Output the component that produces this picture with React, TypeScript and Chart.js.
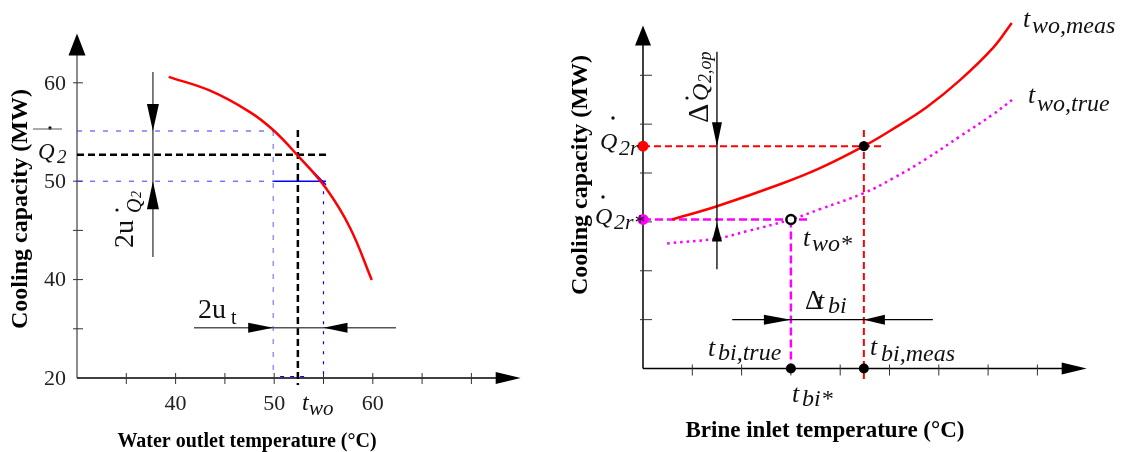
import React, { useEffect, useRef } from "react";
import { Chart, registerables } from "chart.js";
Chart.register(...registerables);

const SERIF = "'Liberation Serif', 'Times New Roman', Times, serif";

// ---------- Left panel (x: water outlet temperature °C, y: capacity axis steps) ----------
const leftXTickValues = [35, 40, 45, 50, 55, 60, 65, 70];
const leftXTickLabels = ["", "40", "", "50", "", "60", "", ""];
const leftYTickValues = [0, 1, 2, 3, 4, 6];
const leftYTickLabels = ["20", "", "40", "", "50", "60"];
const capacityCurveT = [39.3, 43.5, 47.5, 49.9, 52.3, 55.2, 57.7, 59.9];
const capacityCurveQ = [6.12, 5.84, 5.41, 5.04, 4.54, 3.87, 3.05, 1.99];
const nominalT = 52.4;
const nominalQ = 4.54;
const boundT = [49.9, 55.0];
const boundQ = [4.0, 5.02];
const slopeT = [52.8, 55.25];
const slopeQ = [4.43, 3.93];
const uQArrowT = 37.7;
const uQArrowQ = [6.22, 2.46];
const utArrowQ = 1.02;
const utArrowT = [41.87, 62.35];

// ---------- Right panel (x: brine inlet temperature steps, y: capacity steps) ----------
const rightXTickValues = [1, 2, 3, 4, 5, 6, 7, 8];
const rightYTickValues = [1, 2, 3, 4, 5, 6];
const measCurveT = [0.59, 1.5, 2.78, 3.59, 4.48, 5.07, 5.76, 6.43, 7.1, 7.48];
const measCurveQ = [3.05, 3.32, 3.77, 4.1, 4.55, 4.9, 5.35, 5.9, 6.56, 7.07];
const trueCurveT = [0.49, 1.5, 2.11, 3.0, 3.59, 4.48, 5.07, 5.76, 6.43, 7.1, 7.53];
const trueCurveQ = [2.56, 2.66, 2.81, 3.05, 3.26, 3.59, 3.89, 4.3, 4.75, 5.2, 5.53];
const q2r = 4.55;
const q2rStar = 3.05;
const tbiMeas = 4.48;
const tbiTrue = 3.0;
const dQArrowT = 1.5;
const dQArrowQ = [6.48, 2.03];
const dtArrowQ = 1.0;
const dtArrowT = [1.81, 5.88];

const pts = (xs: number[], ys: number[]) => xs.map((x, i) => ({ x, y: ys[i] }));

function seg(ctx: CanvasRenderingContext2D, x1: number, y1: number, x2: number, y2: number) {
  ctx.beginPath();
  ctx.moveTo(x1, y1);
  ctx.lineTo(x2, y2);
  ctx.stroke();
}

function head(ctx: CanvasRenderingContext2D, tx: number, ty: number, dx: number, dy: number, len: number, hw: number) {
  const bx = tx - dx * len, by = ty - dy * len;
  const nx = -dy, ny = dx;
  ctx.beginPath();
  ctx.moveTo(tx, ty);
  ctx.lineTo(bx + nx * hw, by + ny * hw);
  ctx.lineTo(bx - nx * hw, by - ny * hw);
  ctx.closePath();
  ctx.fill();
}

function text(ctx: CanvasRenderingContext2D, s: string, x: number, y: number, font: string, align: CanvasTextAlign = "left", base: CanvasTextBaseline = "alphabetic") {
  ctx.font = font;
  ctx.textAlign = align;
  ctx.textBaseline = base;
  ctx.fillText(s, x, y);
}

function dot(ctx: CanvasRenderingContext2D, x: number, y: number, r: number) {
  ctx.beginPath();
  ctx.arc(x, y, r, 0, Math.PI * 2);
  ctx.fill();
}

function tLabel(ctx: CanvasRenderingContext2D, x: number, y: number, sub: string, sx: number, sy: number) {
  text(ctx, "t", x, y, `italic 26px ${SERIF}`);
  text(ctx, sub, sx, sy, `italic 24px ${SERIF}`);
}

const leftDecor = {
  id: "leftDecor",
  beforeDatasetsDraw(chart: any) {
    const ctx = chart.ctx as CanvasRenderingContext2D;
    const X = (v: number) => chart.scales.x.getPixelForValue(v);
    const Y = (v: number) => chart.scales.y.getPixelForValue(v);
    const ox = X(30), oy = Y(0);
    ctx.save();
    ctx.fillStyle = "#000";
    ctx.strokeStyle = "#666";
    ctx.lineWidth = 1.5;
    seg(ctx, ox, oy, ox, Y(7) + 20);
    head(ctx, ox, Y(7), 0, -1, 22, 8.5);
    leftYTickValues.forEach((v, i) => {
      if (v > 0) { ctx.strokeStyle = "#333"; ctx.lineWidth = 1; seg(ctx, ox - 4, Y(v), ox + 6, Y(v)); }
      ctx.fillStyle = "#222";
      text(ctx, leftYTickLabels[i], ox - 11, Y(v) + 1, `22px ${SERIF}`, "right", "middle");
    });
    ctx.strokeStyle = "#000";
    ctx.fillStyle = "#000";
    ctx.lineWidth = 1.5;
    seg(ctx, ox, oy, X(75) - 22, oy);
    head(ctx, X(75), oy, 1, 0, 25, 6);
    ctx.lineWidth = 1;
    leftXTickValues.forEach((v, i) => {
      ctx.strokeStyle = "#333";
      seg(ctx, X(v), oy - 5, X(v), oy + 6);
      ctx.fillStyle = "#222";
      text(ctx, leftXTickLabels[i], X(v), oy + 26, `22px ${SERIF}`, "center", "middle");
    });
    ctx.restore();
  },
  afterDatasetsDraw(chart: any) {
    const ctx = chart.ctx as CanvasRenderingContext2D;
    const X = (v: number) => chart.scales.x.getPixelForValue(v);
    const Y = (v: number) => chart.scales.y.getPixelForValue(v);
    ctx.save();
    ctx.fillStyle = "#000";
    const ax = X(uQArrowT);
    ctx.strokeStyle = "#555";
    ctx.lineWidth = 1.5;
    seg(ctx, ax, Y(uQArrowQ[0]), ax, Y(uQArrowQ[1]));
    head(ctx, ax, Y(boundQ[1]), 0, 1, 27, 6);
    head(ctx, ax, Y(boundQ[0]), 0, -1, 28, 6);
    const ay = Y(utArrowQ);
    seg(ctx, X(utArrowT[0]), ay, X(utArrowT[1]), ay);
    head(ctx, X(boundT[0]), ay, 1, 0, 25, 5);
    head(ctx, X(boundT[1]), ay, -1, 0, 24, 5);
    ctx.fillStyle = "#111";
    text(ctx, "2u", 198, 318, `28px ${SERIF}`);
    text(ctx, "t", 231, 324, `20px ${SERIF}`);
    ctx.save();
    ctx.translate(133, 248);
    ctx.rotate(-Math.PI / 2);
    text(ctx, "2u", 0, 0, `28px ${SERIF}`);
    text(ctx, "Q", 35, 8, `italic 20px ${SERIF}`);
    text(ctx, "2", 50, 8, `italic 14px ${SERIF}`);
    dot(ctx, 38, -16, 1.6);
    ctx.restore();
    text(ctx, "Q", 38, 159, `italic 23px ${SERIF}`);
    text(ctx, "2", 57, 163, `italic 19px ${SERIF}`);
    dot(ctx, 50, 128, 1.7);
    ctx.strokeStyle = "#555";
    ctx.lineWidth = 1;
    seg(ctx, 33, 129, 62, 129);
    text(ctx, "t", 302, 410, `italic 24px ${SERIF}`);
    text(ctx, "wo", 309, 415, `italic 21px ${SERIF}`);
    ctx.fillStyle = "#000";
    text(ctx, "Water outlet temperature (°C)", 247, 447, `bold 20px ${SERIF}`, "center");
    ctx.save();
    ctx.translate(21, 209);
    ctx.rotate(-Math.PI / 2);
    text(ctx, "Cooling capacity (MW)", 0, 0, `bold 24px ${SERIF}`, "center", "middle");
    ctx.restore();
    ctx.restore();
  },
};

const rightDecor = {
  id: "rightDecor",
  beforeDatasetsDraw(chart: any) {
    const ctx = chart.ctx as CanvasRenderingContext2D;
    const X = (v: number) => chart.scales.x.getPixelForValue(v);
    const Y = (v: number) => chart.scales.y.getPixelForValue(v);
    const ox = X(0), oy = Y(0);
    ctx.save();
    ctx.strokeStyle = "#000";
    ctx.fillStyle = "#000";
    ctx.lineWidth = 1.5;
    seg(ctx, ox, oy, ox, Y(7) + 18);
    head(ctx, ox, Y(7) - 1, 0, -1, 20, 8);
    seg(ctx, ox, oy, X(9) - 22, oy);
    head(ctx, X(9), oy, 1, 0, 25, 6);
    ctx.lineWidth = 1;
    ctx.strokeStyle = "#333";
    rightYTickValues.forEach((v) => seg(ctx, ox - 3, Y(v), ox + 9, Y(v)));
    rightXTickValues.forEach((v) => seg(ctx, X(v), oy - 4, X(v), oy + 7));
    ctx.restore();
  },
  afterDatasetsDraw(chart: any) {
    const ctx = chart.ctx as CanvasRenderingContext2D;
    const X = (v: number) => chart.scales.x.getPixelForValue(v);
    const Y = (v: number) => chart.scales.y.getPixelForValue(v);
    ctx.save();
    ctx.fillStyle = "#000";
    ctx.strokeStyle = "#000";
    ctx.lineWidth = 1.3;
    const ax = X(dQArrowT);
    seg(ctx, ax, Y(dQArrowQ[0]), ax, Y(dQArrowQ[1]));
    head(ctx, ax, Y(q2r), 0, 1, 24, 5);
    head(ctx, ax, Y(q2rStar) + 3, 0, -1, 19, 5);
    const ay = Y(dtArrowQ);
    seg(ctx, X(dtArrowT[0]), ay, X(dtArrowT[1]), ay);
    head(ctx, X(tbiTrue), ay, 1, 0, 27, 5);
    head(ctx, X(tbiMeas), ay, -1, 0, 21, 5);
    ctx.fillStyle = "#111";
    text(ctx, "Q", 40, 149, `italic 24px ${SERIF}`);
    text(ctx, "2r", 59, 155, `italic 22px ${SERIF}`);
    dot(ctx, 53, 118, 1.7);
    text(ctx, "Q", 35, 224, `italic 24px ${SERIF}`);
    text(ctx, "2r*", 54, 229, `italic 22px ${SERIF}`);
    dot(ctx, 43, 197, 1.7);
    tLabel(ctx, 463, 27, "wo,meas", 472, 33);
    tLabel(ctx, 468, 103, "wo,true", 477, 111);
    tLabel(ctx, 243, 246, "wo*", 252, 251);
    tLabel(ctx, 148, 356, "bi,true", 158, 360);
    tLabel(ctx, 310, 355, "bi,meas", 321, 361);
    tLabel(ctx, 232, 402, "bi*", 242, 406);
    text(ctx, "Δ", 245, 309, `27px ${SERIF}`);
    text(ctx, "t", 257, 309, `italic 26px ${SERIF}`);
    text(ctx, "bi", 268, 313, `italic 24px ${SERIF}`);
    ctx.save();
    ctx.translate(148, 123);
    ctx.rotate(-Math.PI / 2);
    text(ctx, "Δ", 0, 0, `30px ${SERIF}`);
    text(ctx, "Q", 22, 0, `italic 24px ${SERIF}`);
    text(ctx, "2,op", 40, 3, `italic 18px ${SERIF}`);
    dot(ctx, 25, -21, 1.6);
    ctx.restore();
    ctx.fillStyle = "#000";
    text(ctx, "Brine inlet temperature (°C)", 265, 437, `bold 23px ${SERIF}`, "center");
    ctx.save();
    ctx.translate(21, 175);
    ctx.rotate(-Math.PI / 2);
    text(ctx, "Cooling capacity (MW)", 0, 0, `bold 24px ${SERIF}`, "center", "middle");
    ctx.restore();
    ctx.restore();
  },
};

const lineDs = (data: any[], color: string, width: number, dash: number[] = [], order = 2) => ({
  data,
  showLine: true,
  borderColor: color,
  borderWidth: width,
  borderDash: dash,
  pointRadius: 0,
  fill: false,
  clip: false,
  order,
});

const baseOptions = (xmin: number, xmax: number, ymin: number, ymax: number, padding: any) => ({
  animation: false,
  responsive: false,
  maintainAspectRatio: false,
  events: [],
  layout: { padding },
  scales: {
    x: { type: "linear", min: xmin, max: xmax, display: false },
    y: { type: "linear", min: ymin, max: ymax, display: false },
  },
  plugins: { legend: { display: false }, tooltip: { enabled: false } },
});

export default function App() {
  const leftRef = useRef<HTMLCanvasElement>(null);
  const rightRef = useRef<HTMLCanvasElement>(null);

  useEffect(() => {
    const left = new Chart(leftRef.current as HTMLCanvasElement, {
      type: "scatter",
      data: {
        datasets: [
          { ...lineDs(pts(capacityCurveT, capacityCurveQ), "#ff0000", 2.5, [], 1), tension: 0.4 },
          lineDs([{ x: 30, y: nominalQ }, { x: 55.45, y: nominalQ }], "#000", 2.5, [7, 4]),
          lineDs([{ x: nominalT, y: 5.04 }, { x: nominalT, y: -0.14 }], "#000", 2.5, [7, 4]),
          lineDs([{ x: 30, y: boundQ[1] }, { x: boundT[0], y: boundQ[1] }], "#3535ff", 1, [5, 8], 3),
          lineDs([{ x: boundT[0], y: boundQ[1] }, { x: boundT[0], y: 0 }], "#7a7aff", 1.2, [5, 8], 3),
          lineDs([{ x: 30, y: boundQ[0] }, { x: boundT[0], y: boundQ[0] }], "#3535ff", 1, [5, 8], 3),
          lineDs([{ x: boundT[0], y: boundQ[0] }, { x: slopeT[1], y: boundQ[0] }], "#0000ff", 1.4, [], 3),
          lineDs([{ x: slopeT[0], y: slopeQ[0] }, { x: slopeT[1], y: slopeQ[1] }], "#0000ff", 1.4, [], 3),
          lineDs([{ x: boundT[1], y: boundQ[0] }, { x: boundT[1], y: 0 }], "#0000ff", 1.2, [3, 7], 3),
          lineDs([{ x: 50.6, y: 0.03 }, { x: 53.1, y: 0.03 }], "#0000ff", 1, [4, 6], 3),
        ],
      },
      options: baseOptions(30, 75, 0, 7, { left: 77, right: 39.3, top: 33.6, bottom: 74 }) as any,
      plugins: [leftDecor],
    } as any);

    const right = new Chart(rightRef.current as HTMLCanvasElement, {
      type: "scatter",
      data: {
        datasets: [
          {
            data: [
              { x: 0, y: q2r },
              { x: 0, y: q2rStar },
              { x: tbiTrue, y: 0 },
              { x: tbiMeas, y: 0 },
              { x: tbiMeas, y: q2r },
              { x: tbiTrue, y: q2rStar },
            ],
            pointRadius: [5.5, 5.5, 5, 5, 5, 4.5],
            pointBackgroundColor: ["#ff0000", "#ff00ff", "#000", "#000", "#000", "#ffffff"],
            pointBorderColor: ["#ff0000", "#ff00ff", "#000", "#000", "#000", "#000"],
            pointBorderWidth: [0, 0, 0, 0, 0, 2.5],
            showLine: false,
            clip: false,
            order: 0,
          },
          { ...lineDs(pts(measCurveT, measCurveQ), "#ff0000", 2.5, [], 1), tension: 0.4 },
          { ...lineDs(pts(trueCurveT, trueCurveQ), "#ff00ff", 2.5, [2.5, 4], 1), tension: 0.4 },
          lineDs([{ x: 0, y: q2r }, { x: 4.91, y: q2r }], "#ff0000", 2, [7, 4]),
          lineDs([{ x: tbiMeas, y: 4.88 }, { x: tbiMeas, y: -0.23 }], "#ff0000", 2, [7, 4]),
          lineDs([{ x: 0, y: q2rStar }, { x: 3.33, y: q2rStar }], "#ff00ff", 2.5, [8, 4]),
          lineDs([{ x: tbiTrue, y: q2rStar }, { x: tbiTrue, y: -0.1 }], "#ff00ff", 2.5, [8, 4]),
        ],
      },
      options: baseOptions(0, 9, 0, 7, { left: 83, right: 34.3, top: 26.4, bottom: 83.5 }) as any,
      plugins: [rightDecor],
    } as any);

    return () => {
      left.destroy();
      right.destroy();
    };
  }, []);

  return (
    <div style={{ position: "absolute", left: 0, top: 0, width: 1121, height: 452, background: "#fff" }}>
      <canvas ref={leftRef} width={560} height={452} style={{ position: "absolute", left: 0, top: 0, width: 560, height: 452 }} />
      <canvas ref={rightRef} width={561} height={452} style={{ position: "absolute", left: 560, top: 0, width: 561, height: 452 }} />
    </div>
  );
}
